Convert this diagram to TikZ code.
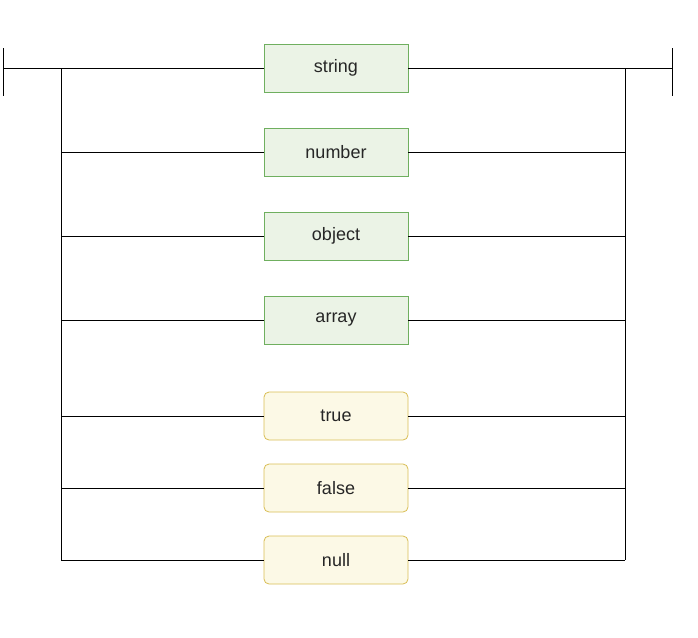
\documentclass[tikz,border=0pt]{standalone}
\usepackage{fontspec}
\setmainfont{Liberation Sans}
\usetikzlibrary{patterns}
\definecolor{gbord}{HTML}{6FAF5F}
\definecolor{gfill}{HTML}{EBF3E6}
\definecolor{ybord}{HTML}{D9BE55}
\definecolor{yfill}{HTML}{FCF9E6}
\begin{document}
\begin{tikzpicture}[x=1pt,y=-1pt,
  gbox/.style={draw=gbord,fill=gfill,line width=0.8pt,minimum width=144pt,minimum height=48pt,font=\fontsize{18}{20}\selectfont,text=black!85},
  ybox/.style={draw=ybord,fill=yfill,line width=0.8pt,rounded corners=5pt,minimum width=144pt,minimum height=48pt,font=\fontsize{18}{20}\selectfont,text=black!85},
  wire/.style={draw=black,line width=0.9pt}]
\useasboundingbox (0,0) rectangle (698,637);
\node[gbox] (s) at (336,68) {string};
\node[gbox] (n) at (336,152) {number};
\node[gbox] (o) at (336,236) {object};
\node[gbox] (a) at (336,320) {array};
\node[ybox] (t) at (336,416) {true};
\node[ybox] (f) at (336,488) {false};
\node[ybox] (u) at (336,560) {null};
\coordinate (st) at (3,68);
\coordinate (en) at (672,68);
\coordinate (lt) at (61,68);
\coordinate (rt) at (625,68);
\coordinate (lb) at (61,560);
\coordinate (rb) at (625,560);
\draw[wire] (3,48) -- (3,96);
\draw[wire] (672,48) -- (672,96);
\draw[wire] (st) -- (s.west);
\draw[wire] (s.east) -- (en);
\draw[wire] (lt) -- (lb);
\draw[wire] (rt) -- (rb);
\foreach \b in {n,o,a,t,f,u}{
  \draw[wire] (\b.west) -- (\b.west -| lt);
  \draw[wire] (\b.east) -- (\b.east -| rt);
}
\end{tikzpicture}
\end{document}
